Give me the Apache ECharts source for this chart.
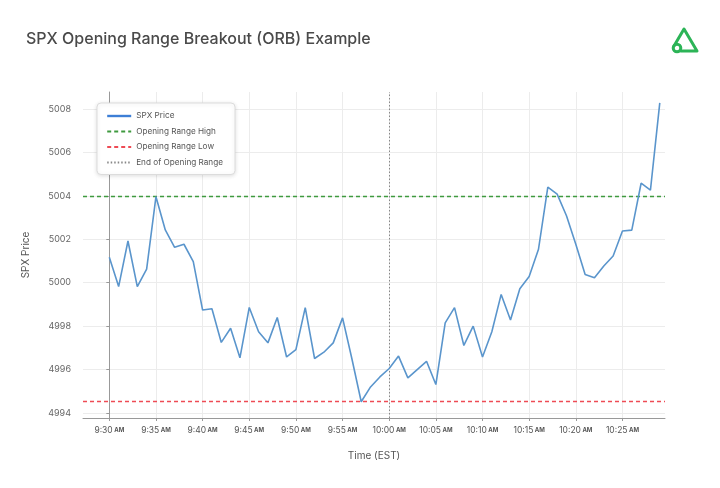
<!DOCTYPE html>
<html>
<head>
<meta charset="utf-8">
<script src="https://cdn.jsdelivr.net/npm/echarts@6/dist/echarts.min.js"></script>
<style>
  html, body { margin: 0; padding: 0; background: #fff; }
  #chart { width: 720px; height: 488px; }
</style>
</head>
<body>
<div id="chart"></div>
<script>
// one price per minute, 9:30 -> 10:29
const times = [
  '9:30', '9:31', '9:32', '9:33', '9:34', '9:35', '9:36', '9:37', '9:38', '9:39',
  '9:40', '9:41', '9:42', '9:43', '9:44', '9:45', '9:46', '9:47', '9:48', '9:49',
  '9:50', '9:51', '9:52', '9:53', '9:54', '9:55', '9:56', '9:57', '9:58', '9:59',
  '10:00', '10:01', '10:02', '10:03', '10:04', '10:05', '10:06', '10:07', '10:08', '10:09',
  '10:10', '10:11', '10:12', '10:13', '10:14', '10:15', '10:16', '10:17', '10:18', '10:19',
  '10:20', '10:21', '10:22', '10:23', '10:24', '10:25', '10:26', '10:27', '10:28', '10:29'
];
const prices = [
  5001.17, 4999.82, 5001.92, 4999.82, 5000.62, 5003.96, 5002.43, 5001.63, 5001.77, 5000.97,
  4998.74, 4998.80, 4997.25, 4997.90, 4996.54, 4998.86, 4997.74, 4997.23, 4998.40, 4996.58,
  4996.92, 4998.85, 4996.51, 4996.80, 4997.23, 4998.38, 4996.50, 4994.52, 4995.20, 4995.66,
  4996.05, 4996.62, 4995.62, 4996.00, 4996.38, 4995.31, 4998.15, 4998.85, 4997.11, 4998.00,
  4996.58, 4997.74, 4999.46, 4998.28, 4999.72, 5000.28, 5001.54, 5004.40, 5004.08, 5003.08,
  5001.77, 5000.38, 5000.23, 5000.77, 5001.23, 5002.38, 5002.42, 5004.58, 5004.26, 5008.28
];
const xTickIdx = [0, 5, 10, 15, 20, 25, 30, 35, 40, 45, 50, 55];
const yTicks = [4994, 4996, 4998, 5000, 5002, 5004, 5006, 5008];
const openingMinutes = 30;

const openPrices = prices.slice(0, openingMinutes);
const orHigh = Math.max(...openPrices);
const orLow = Math.min(...openPrices);

const FONT = 'Inter, "Noto Sans", sans-serif';
const GREEN = '#3f9a3f';
const RED = '#ee4b55';
const chart = echarts.init(document.getElementById('chart'), null, { renderer: 'canvas' });

const option = {
  animation: false,
  backgroundColor: '#fff',
  textStyle: { fontFamily: FONT },
  title: {
    text: 'SPX Opening Range Breakout (ORB) Example',
    left: 21,
    top: 26,
    textStyle: { fontFamily: FONT, fontSize: 16, fontWeight: 500, color: '#4a4a4a' }
  },
  // logo, top right
  graphic: [
    {
      type: 'polyline',
      shape: { points: [[674, 46], [684, 29], [697, 51], [681, 51]] },
      style: { fill: null, stroke: '#2cb457', lineWidth: 3, lineJoin: 'round', lineCap: 'round' }
    },
    {
      type: 'circle',
      shape: { cx: 677, cy: 48, r: 3.8 },
      style: { fill: null, stroke: '#2cb457', lineWidth: 3 }
    }
  ],
  legend: {
    orient: 'vertical',
    left: 97,
    top: 103,
    padding: [9, 12, 8, 9],
    itemWidth: 24,
    itemHeight: 8,
    itemGap: 7.5,
    backgroundColor: '#fff',
    borderColor: '#dcdcdc',
    borderWidth: 1,
    borderRadius: 4,
    shadowColor: 'rgba(0,0,0,0.12)',
    shadowBlur: 4,
    shadowOffsetY: 1,
    itemStyle: { opacity: 0 },
    textStyle: { fontFamily: FONT, fontSize: 8.2, color: '#555' },
    data: [
      { name: 'SPX Price', lineStyle: { width: 2.4, color: '#3d7fd6' } },
      'Opening Range High',
      'Opening Range Low',
      'End of Opening Range'
    ]
  },
  grid: { left: 83, right: 55, top: 92, bottom: 70 },
  xAxis: {
    type: 'value',
    min: -2.82,
    max: 59.56,
    name: 'Time (EST)',
    nameLocation: 'middle',
    nameGap: 33,
    nameTextStyle: { fontFamily: FONT, fontSize: 10, color: '#555' },
    axisLine: { show: true, lineStyle: { color: '#999', width: 1 } },
    axisTick: { show: true, length: 3, lineStyle: { color: '#999' }, customValues: xTickIdx },
    axisLabel: {
      customValues: xTickIdx,
      margin: 8,
      fontSize: 8.5,
      color: '#555',
      formatter: v => '{t|' + times[Math.round(v)] + '}{am| AM}',
      rich: {
        t: { fontFamily: FONT, fontSize: 8.5, color: '#555' },
        am: { fontFamily: FONT, fontSize: 6, fontWeight: 'bold', color: '#555' }
      }
    },
    splitLine: { show: true, lineStyle: { color: '#ececec', width: 1 } }
  },
  yAxis: {
    type: 'value',
    min: 4993.77,
    max: 5008.78,
    name: 'SPX Price',
    nameLocation: 'middle',
    nameGap: 52,
    nameTextStyle: { fontFamily: FONT, fontSize: 10, color: '#555' },
    axisLine: { show: true, lineStyle: { color: '#999', width: 1 } },
    axisTick: { show: true, length: 3, lineStyle: { color: '#999' }, customValues: yTicks },
    axisLabel: {
      customValues: yTicks,
      margin: 12,
      fontSize: 9,
      color: '#666',
      fontFamily: FONT,
      formatter: v => String(Math.round(v))
    },
    splitLine: { show: true, lineStyle: { color: '#ececec', width: 1 } }
  },
  series: [
    {
      name: 'SPX Price',
      type: 'line',
      symbol: 'none',
      z: 5,
      data: prices.map((p, i) => [i, p]),
      lineStyle: { color: '#5a95cc', width: 1.6 },
      itemStyle: { color: '#3d7fd6' }
    },
    {
      name: 'Opening Range High',
      type: 'line',
      symbol: 'none',
      data: [],
      lineStyle: { color: GREEN, width: 1.3, type: [4, 3] },
      itemStyle: { color: GREEN },
      markLine: {
        silent: true, symbol: 'none', label: { show: false },
        lineStyle: { color: GREEN, width: 1.3, type: [4, 3] },
        data: [{ yAxis: orHigh }]
      }
    },
    {
      name: 'Opening Range Low',
      type: 'line',
      symbol: 'none',
      data: [],
      lineStyle: { color: RED, width: 1.3, type: [4, 3] },
      itemStyle: { color: RED },
      markLine: {
        silent: true, symbol: 'none', label: { show: false },
        lineStyle: { color: RED, width: 1.3, type: [4, 3] },
        emphasis: { disabled: true },
        data: [{ yAxis: orLow, lineStyle: { color: RED } }]
      }
    },
    {
      name: 'End of Opening Range',
      type: 'line',
      symbol: 'none',
      data: [],
      lineStyle: { color: '#888', width: 1, type: [1.5, 2] },
      itemStyle: { color: '#888' },
      markLine: {
        silent: true, symbol: 'none', label: { show: false },
        lineStyle: { color: '#888', width: 1, type: [1.5, 2] },
        data: [{ xAxis: openingMinutes }]
      }
    }
  ]
};

chart.setOption(option);
</script>
</body>
</html>
